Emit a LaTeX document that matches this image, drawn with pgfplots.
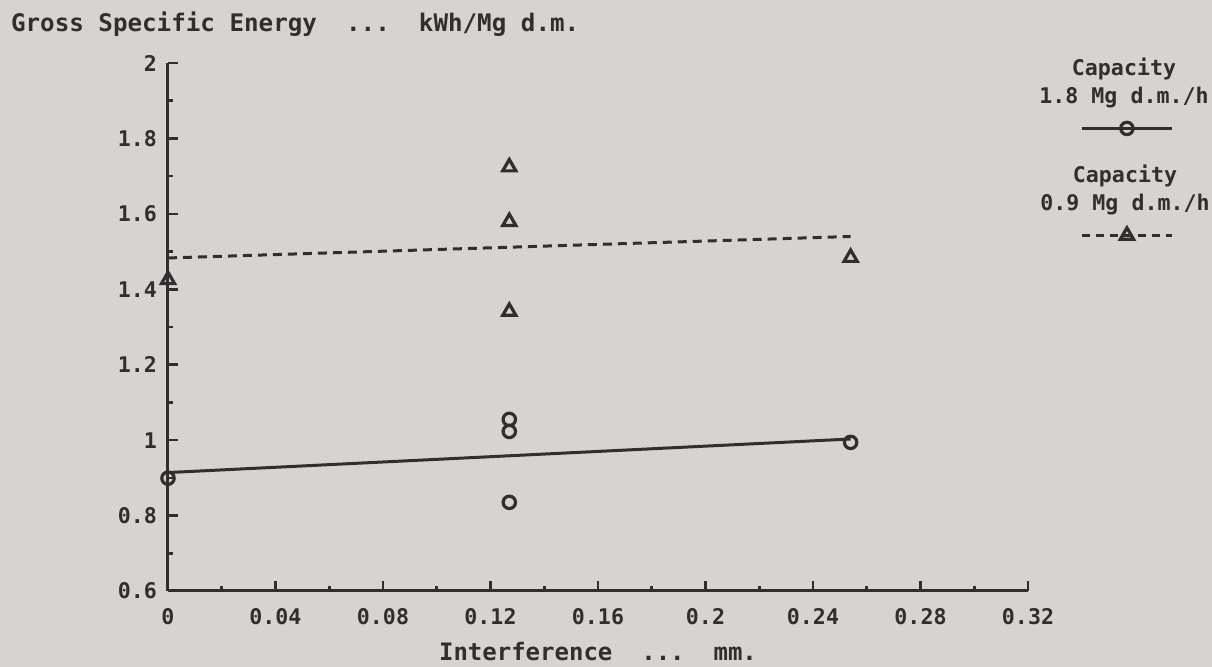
\documentclass[border=0pt]{standalone}
\usepackage{pgfplots}
\pgfplotsset{compat=1.18}
\usepackage{fontspec}
\setmainfont{DejaVu Sans Mono}
\definecolor{bg}{RGB}{214,212,208}
\definecolor{ink}{RGB}{50,45,47}
\begin{document}
\begin{tikzpicture}
\fill[bg] (0,0) rectangle (606pt,333.5pt);
\path[use as bounding box] (0,0) rectangle (606pt,333.5pt);
\begin{axis}[
  at={(84pt,38pt)}, anchor=south west,
  scale only axis, width=430pt, height=264pt,
  xmin=0, xmax=0.32, ymin=0.6, ymax=2,
  axis lines=left, axis line style={-, ink, line width=1.5pt},
  xtick={0,0.04,0.08,0.12,0.16,0.2,0.24,0.28,0.32},
  ytick={0.6,0.8,1,1.2,1.4,1.6,1.8,2},
  minor x tick num=1, minor y tick num=1,
  tick align=inside, major tick length=5pt, minor tick length=2.5pt,
  every tick/.style={ink, line width=1.3pt},
  scaled ticks=false,
  /pgf/number format/assume math mode=true,
  /pgf/number format/fixed, /pgf/number format/precision=2,
  ticklabel style={font=\bfseries\fontsize{10.8}{12}\selectfont, text=ink},
  xticklabel style={yshift=-5pt},
  yticklabel style={xshift=-2pt},
  xlabel={Interference\ \ ...\ \ mm.},
  ylabel={Gross Specific Energy\ \ ...\ \ kWh/Mg d.m.},
  every axis x label/.style={at={(axis description cs:0.5,0)}, anchor=center, yshift=-30.5pt, font=\bfseries\fontsize{12}{14}\selectfont, text=ink},
  every axis y label/.style={at={(axis description cs:0,1)}, anchor=west, xshift=-82pt, yshift=19.5pt, font=\bfseries\fontsize{12.1}{14}\selectfont, text=ink},
  clip=false,
  legend style={at={(axis description cs:1.0605,0.892)}, anchor=north west, draw=none, fill=none, inner sep=0pt, row sep=45.5pt, column sep=0pt, nodes={inner sep=0pt}},
  legend image code/.code={\path[draw=none, fill=none] (0pt,-4pt) rectangle (45pt,4pt); \draw[mark repeat=2,mark phase=2,#1] plot coordinates {(0pt,0pt) (22.5pt,0pt) (45pt,0pt)};},
]
% Capacity 1.8 Mg d.m./h : measured points
\addplot[forget plot, ink, line width=1.6pt, only marks, mark=o, mark size=3.1pt]
  coordinates {(0,0.899) (0.127,1.055) (0.127,1.023) (0.127,0.835) (0.254,0.994)};
% regression line
\addplot[forget plot, ink, line width=1.5pt] coordinates {(0,0.914) (0.254,1.003)};
% Capacity 0.9 Mg d.m./h : measured points
\addplot[forget plot, ink, line width=1.6pt, only marks, mark=triangle, mark size=3.8pt]
  coordinates {(0,1.425) (0.127,1.724) (0.127,1.579) (0.127,1.341) (0.254,1.484)};
% regression line
\addplot[forget plot, ink, line width=1.5pt, dash pattern=on 4.5pt off 3pt] coordinates {(0,1.483) (0.254,1.540)};
\addlegendimage{ink, line width=1.5pt, mark=o, mark size=3.1pt, mark options={line width=1.6pt}}
\addlegendentry{}
\addlegendimage{ink, line width=1.5pt, dash pattern=on 4pt off 3pt, mark=triangle, mark size=3.8pt, mark options={solid, line width=1.6pt}}
\addlegendentry{}
\end{axis}
\node[align=center, font=\bfseries\fontsize{10.8}{14}\selectfont, text=ink] at (562pt,292.25pt) {Capacity\\1.8 Mg d.m./h};
\node[align=center, font=\bfseries\fontsize{10.8}{14}\selectfont, text=ink] at (562.5pt,238.5pt) {Capacity\\0.9 Mg d.m./h};
\end{tikzpicture}
\end{document}
